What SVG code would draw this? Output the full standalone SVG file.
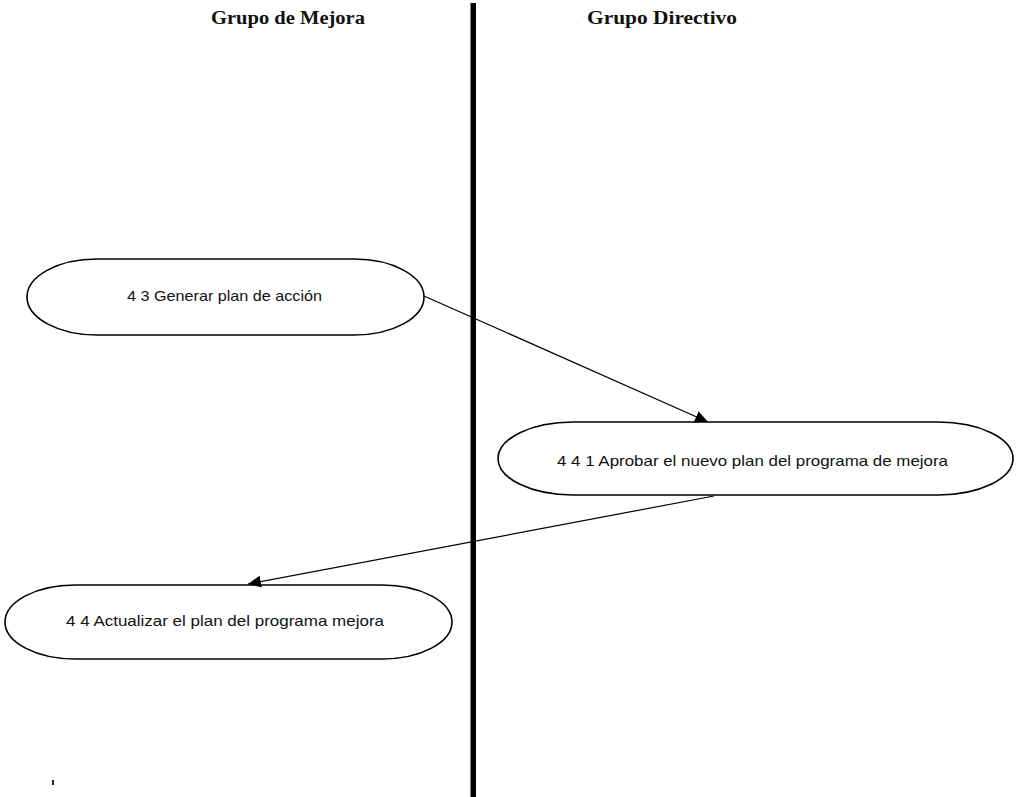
<svg xmlns="http://www.w3.org/2000/svg" width="1021" height="797" viewBox="0 0 1021 797">
  <style>
    .lane-title { font-family: "Liberation Serif", "Times New Roman", serif; font-size: 18px; font-weight: bold; fill: #111; }
    .node-shape { fill: #fff; stroke: #000; stroke-width: 1.6; }
    .node-label { font-family: "Liberation Sans", Arial, sans-serif; font-size: 15px; fill: #111; }
    .edge { fill: none; stroke: #000; stroke-width: 1.2; marker-end: url(#arrow); }
  </style>
  <defs>
    <marker id="arrow" markerUnits="userSpaceOnUse" markerWidth="14" markerHeight="12" refX="13" refY="6" orient="auto">
      <path d="M0,0 L13,6 L0,12 Z" fill="#000"/>
    </marker>
  </defs>

  <rect width="1021" height="797" fill="#fff"/>

  <!-- swimlane headers and divider -->
  <g id="lanes">
    <text class="lane-title" x="211" y="24" textLength="154" lengthAdjust="spacingAndGlyphs">Grupo de Mejora</text>
    <text class="lane-title" x="587" y="24" textLength="150" lengthAdjust="spacingAndGlyphs">Grupo Directivo</text>
    <rect x="470.5" y="3" width="5.5" height="794" fill="#000"/>
  </g>

  <!-- activities -->
  <g id="node-4-3">
    <rect class="node-shape" x="27" y="259" width="397" height="76" rx="70" ry="38"/>
    <text class="node-label" x="127" y="301" textLength="195" lengthAdjust="spacingAndGlyphs">4 3 Generar plan de acción</text>
  </g>
  <g id="node-4-4-1">
    <rect class="node-shape" x="498" y="422" width="515" height="73" rx="75" ry="36.5"/>
    <text class="node-label" x="557" y="466" textLength="391" lengthAdjust="spacingAndGlyphs">4 4 1 Aprobar el nuevo plan del programa de mejora</text>
  </g>
  <g id="node-4-4">
    <rect class="node-shape" x="5" y="585" width="447" height="74" rx="70" ry="37"/>
    <text class="node-label" x="66" y="626" textLength="318" lengthAdjust="spacingAndGlyphs">4 4 Actualizar el plan del programa mejora</text>
  </g>

  <!-- connectors -->
  <g id="connectors">
    <line class="edge" x1="424" y1="296" x2="708" y2="422"/>
    <line class="edge" x1="714" y1="496" x2="248" y2="584"/>
  </g>

  <!-- small stray mark near the bottom-left -->
  <rect x="52" y="780" width="2" height="5" fill="#222"/>
</svg>
